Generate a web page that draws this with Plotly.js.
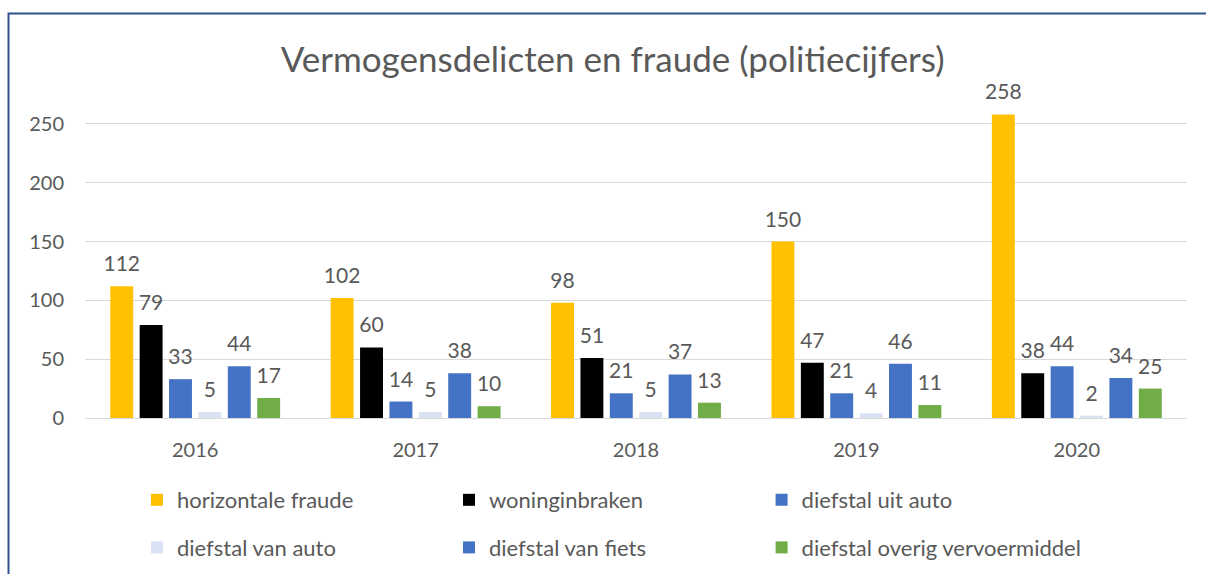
<!DOCTYPE html>
<html>
<head>
<meta charset="utf-8">
<script src="https://cdn.plot.ly/plotly-3.0.1.min.js"></script>
<style>html,body{margin:0;padding:0;background:#fff;}#chart{width:1206px;height:574px;}</style>
</head>
<body>
<div id="chart"></div>
<script>
const years = ['2016', '2017', '2018', '2019', '2020'];
const seriesNames = ['horizontale fraude', 'woninginbraken', 'diefstal uit auto', 'diefstal van auto', 'diefstal van fiets', 'diefstal overig vervoermiddel'];
const horizontaleFraude = [112, 102, 98, 150, 258];
const woninginbraken = [79, 60, 51, 47, 38];
const diefstalUitAuto = [33, 14, 21, 21, 44];
const diefstalVanAuto = [5, 5, 5, 4, 2];
const diefstalVanFiets = [44, 38, 37, 46, 34];
const diefstalOverig = [17, 10, 13, 11, 25];
const yTicks = [0, 50, 100, 150, 200, 250];

const seriesValues = [horizontaleFraude, woninginbraken, diefstalUitAuto, diefstalVanAuto, diefstalVanFiets, diefstalOverig];
const seriesColors = ['#FFC000', '#000000', '#4472C4', '#D9E2F3', '#4472C4', '#70AD47'];
const legendIds = ['legend', 'legend2', 'legend3', 'legend', 'legend2', 'legend3'];
const FONT = 'Lato, "Open Sans", sans-serif';
const TXT = '#595959';

const traces = [];
seriesValues.forEach((vals, i) => {
  traces.push({
    type: 'bar', x: years, y: vals, name: seriesNames[i],
    marker: {color: seriesColors[i]},
    legend: legendIds[i], legendgroup: 'g' + i,
    hoverinfo: 'skip'
  });
});
seriesValues.forEach((vals, i) => {
  traces.push({
    type: 'scatter', mode: 'markers+text', x: years, y: vals,
    text: vals.map(String), textposition: 'top center',
    textfont: {family: FONT, size: 21, color: TXT},
    marker: {size: 14, opacity: 0},
    showlegend: false, cliponaxis: false, hoverinfo: 'skip'
  });
});

const legendCommon = {
  orientation: 'v', xref: 'container', yref: 'container', xanchor: 'left', yanchor: 'middle', y: 0.0871,
  tracegroupgap: 16,
  font: {family: FONT, size: 22, color: TXT}, bgcolor: 'rgba(0,0,0,0)'
};

const layout = {
  width: 1206, height: 574,
  margin: {l: 85, r: 19, t: 65, b: 156, autoexpand: false},
  paper_bgcolor: '#ffffff', plot_bgcolor: '#ffffff',
  font: {family: FONT, color: TXT},
  title: {text: 'Vermogensdelicten en fraude (politiecijfers)', font: {family: FONT, size: 35, color: TXT},
          xref: 'container', x: 0.508, xanchor: 'center', yref: 'container', y: 0.8955, yanchor: 'middle'},
  barmode: 'group', bargap: 0.2, bargroupgap: 0.22,
  scattermode: 'group', scattergap: 0.2,
  xaxis: {type: 'category', showline: true, linecolor: '#D9D9D9', linewidth: 1, ticks: '', tickangle: 0,
          tickfont: {family: FONT, size: 20, color: TXT}, ticklabelstandoff: 14, showgrid: false, fixedrange: true},
  yaxis: {range: [0, 300], tickvals: yTicks, ticktext: yTicks.map(String), showgrid: true, gridcolor: '#D9D9D9', gridwidth: 1,
          zeroline: false, showline: false, ticks: '', tickfont: {family: FONT, size: 20, color: TXT}, ticklabelstandoff: 20, fixedrange: true},
  legend: Object.assign({}, legendCommon, {x: 0.1136}),
  legend2: Object.assign({}, legendCommon, {x: 0.3723}),
  legend3: Object.assign({}, legendCommon, {x: 0.6315}),
  shapes: [{type: 'rect', xref: 'paper', yref: 'paper', x0: -0.0694, x1: 1.2, y0: -0.6, y1: 1.146,
            line: {color: '#2F528F', width: 2}, fillcolor: 'rgba(0,0,0,0)', layer: 'above'}],
  showlegend: true
};

Plotly.newPlot('chart', traces, layout, {displayModeBar: false, staticPlot: true});
</script>
</body>
</html>
